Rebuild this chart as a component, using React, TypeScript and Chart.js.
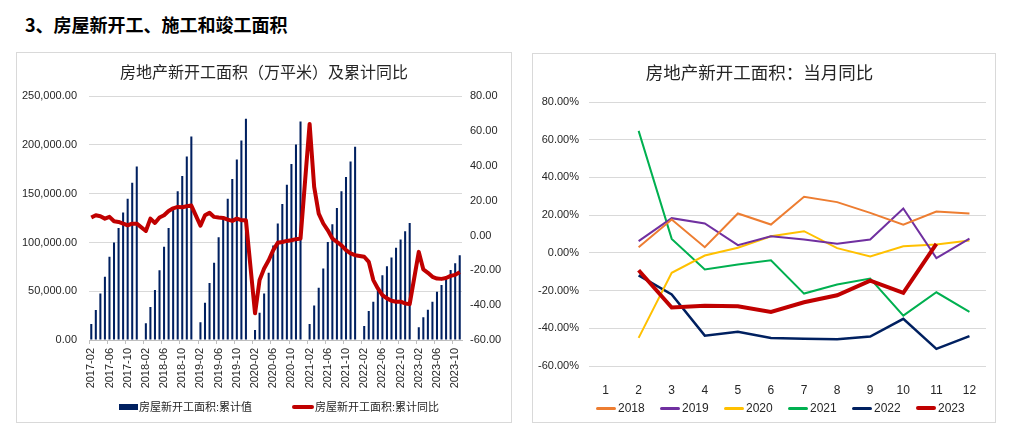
import React, { useEffect, useRef } from 'react';
import { Chart, registerables } from 'chart.js';

Chart.register(...registerables);

// ---------- Data: left chart (cumulative new starts, 万平米, and cumulative YoY %) ----------
const years = ['2017', '2018', '2019', '2020', '2021', '2022', '2023'];
const months = ['01', '02', '03', '04', '05', '06', '07', '08', '09', '10', '11', '12'];

// values from Feb to Dec (Jan has no separate release)
const cum2017 = [16370, 30700, 47750, 64800, 85270, 99930, 114940, 130630, 144950, 161320, 178030];
const cum2018 = [17050, 33770, 51160, 71620, 95500, 114940, 133700, 152460, 168150, 188270, 208730];
const cum2019 = [18080, 38200, 58330, 79130, 105390, 126000, 144950, 165080, 185200, 204640, 226810];
const cum2020 = [10230, 27970, 47750, 68890, 97000, 119370, 139490, 159280, 180420, 200540, 224080];
const cum2021 = [16370, 35460, 53530, 73300, 100610, 118660, 135370, 152460, 167130, 183160, 198160];
const cum2022 = [14330, 29670, 39220, 51500, 66400, 75700, 84580, 94470, 103000, 111530, 120060];
const cum2023 = [13000, 23300, 30900, 39240, 49500, 56400, 64000, 71800, 78700, 87000];

const yoy2017 = [10.3, 11.6, 11.1, 9.7, 10.7, 8.2, 7.8, 6.8, 5.9, 6.8, 6.8];
const yoy2018 = [2.6, 9.7, 7.2, 10.3, 11.6, 14.1, 15.6, 16.4, 16.2, 16.8, 17.2];
const yoy2019 = [5.7, 11.6, 13.0, 10.7, 10.3, 10.1, 9.1, 8.4, 9.7, 8.8, 8.8];
const yoy2020 = [-44.7, -25.6, -18.9, -14.2, -8.4, -4.2, -3.7, -3.1, -2.7, -2.1, -1.7];
const yoy2021 = [64.1, 27.9, 12.6, 6.9, 3.0, -1.7, -3.7, -5.6, -8.4, -10.3, -11.3];
const yoy2022 = [-12.2, -15.1, -25.6, -30.4, -34.2, -36.1, -37.5, -38.0, -38.0, -39.0, -39.4];
const yoy2023 = [-9.4, -19.5, -21.4, -23.7, -24.7, -24.9, -24.4, -23.2, -22.6, -21.0];

const cumByYear = [cum2017, cum2018, cum2019, cum2020, cum2021, cum2022, cum2023];
const yoyByYear = [yoy2017, yoy2018, yoy2019, yoy2020, yoy2021, yoy2022, yoy2023];

// ---------- Data: right chart (monthly YoY %, month 1..12) ----------
const monthLabels = ['1', '2', '3', '4', '5', '6', '7', '8', '9', '10', '11', '12'];
const m2018 = [null, 3.0, 17.7, 3.0, 20.9, 15.0, 29.7, 26.9, 21.2, 14.9, 21.9, 20.9];
const m2019 = [null, 6.2, 18.4, 15.6, 4.1, 8.8, 7.1, 4.8, 7.1, 23.5, -2.8, 7.6];
const m2020 = [null, -45.1, -10.6, -1.4, 2.7, 8.8, 11.5, 2.5, -1.9, 3.5, 4.4, 6.5];
const m2021 = [null, 64.7, 7.4, -8.8, -6.2, -3.9, -21.6, -16.8, -13.6, -33.3, -20.9, -31.3];
const m2022 = [null, -11.9, -22.1, -43.9, -41.8, -45.1, -45.5, -45.8, -44.4, -35.0, -50.9, -44.2];
const m2023 = [null, -9.2, -29.0, -28.0, -28.3, -31.3, -26.2, -22.5, -14.7, -21.2, 4.8, null];

const monthlySeries = [
  { label: '2018', data: m2018, color: '#ED7D31', width: 2 },
  { label: '2019', data: m2019, color: '#7030A0', width: 2 },
  { label: '2020', data: m2020, color: '#FFC000', width: 2 },
  { label: '2021', data: m2021, color: '#00B050', width: 2 },
  { label: '2022', data: m2022, color: '#002060', width: 2.5 },
  { label: '2023', data: m2023, color: '#C00000', width: 4 },
];

// ---------- Build category table ----------
const cumLabels: string[] = [];
const cumSeries: (number | null)[] = [];
const yoySeries: (number | null)[] = [];
years.forEach((y, yi) => {
  months.forEach((m, mi) => {
    if (yi === 0 && mi === 0) return; // series starts at 2017-02
    const k = mi - 1;
    if (k >= cumByYear[yi].length) return;
    cumLabels.push(`${y}-${m}`);
    cumSeries.push(k < 0 ? null : cumByYear[yi][k]);
    yoySeries.push(k < 0 ? null : yoyByYear[yi][k]);
  });
});

const FONT = "'Liberation Sans', Arial, 'Noto Sans CJK SC', sans-serif";
const TXT = '#262626';
const GRID = '#d9d9d9';
const NAVY = '#002060';
const RED = '#C00000';

function LeftChart() {
  const ref = useRef<HTMLCanvasElement>(null);
  useEffect(() => {
    const chart = new Chart(ref.current as HTMLCanvasElement, {
      type: 'bar',
      data: {
        labels: cumLabels,
        datasets: [
          {
            type: 'line',
            label: '房屋新开工面积:累计同比',
            data: yoySeries,
            yAxisID: 'yR',
            borderColor: RED,
            backgroundColor: RED,
            borderWidth: 4,
            pointRadius: 0,
            tension: 0,
            spanGaps: true,
            order: 0,
            borderJoinStyle: 'round',
          } as any,
          {
            type: 'bar',
            label: '房屋新开工面积:累计值',
            data: cumSeries,
            yAxisID: 'yL',
            backgroundColor: NAVY,
            barPercentage: 0.45,
            categoryPercentage: 1,
            order: 1,
          } as any,
        ],
      },
      options: {
        responsive: false,
        animation: false,
        maintainAspectRatio: false,
        layout: { padding: 0 },
        plugins: {
          legend: { display: false },
          tooltip: { enabled: false },
          title: {
            display: true,
            text: '房地产新开工面积（万平米）及累计同比',
            color: TXT,
            font: { size: 16, family: FONT, weight: 'normal' },
            padding: { top: 11, bottom: 13 },
          },
        },
        scales: {
          x: {
            offset: true,
            grid: {
              display: true,
              drawOnChartArea: false,
              drawTicks: true,
              tickLength: 4,
              offset: true,
              tickColor: (c: any) => (c.index % 4 === 0 ? '#bfbfbf' : 'rgba(0,0,0,0)'),
            },
            border: { display: true, color: '#bfbfbf' },
            ticks: {
              autoSkip: false,
              minRotation: 90,
              maxRotation: 90,
              padding: 4,
              color: TXT,
              font: { size: 11, family: FONT },
              callback: (_v: any, i: number) => (i % 4 === 0 ? cumLabels[i] : ''),
            },
            afterFit: (s: any) => {
              s.height = 82;
            },
          },
          yL: {
            position: 'left',
            min: 0,
            max: 250000,
            grid: { color: GRID, drawTicks: false },
            border: { display: false },
            ticks: {
              stepSize: 50000,
              padding: 12,
              color: TXT,
              font: { size: 11, family: FONT },
              callback: (v: any) =>
                Number(v).toLocaleString('en-US', { minimumFractionDigits: 2, maximumFractionDigits: 2 }),
            },
            afterFit: (s: any) => {
              s.width = 72;
            },
          },
          yR: {
            position: 'right',
            min: -60,
            max: 80,
            grid: { display: false, drawTicks: false },
            border: { display: false },
            ticks: {
              stepSize: 20,
              padding: 8,
              color: TXT,
              font: { size: 11, family: FONT },
              callback: (v: any) => Number(v).toFixed(2),
            },
            afterFit: (s: any) => {
              s.width = 49;
            },
          },
        },
      } as any,
    });
    return () => chart.destroy();
  }, []);
  return <canvas ref={ref} width={494} height={369} style={{ display: 'block', width: 494, height: 369 }} />;
}

function RightChart() {
  const ref = useRef<HTMLCanvasElement>(null);
  useEffect(() => {
    const chart = new Chart(ref.current as HTMLCanvasElement, {
      type: 'line',
      data: {
        labels: monthLabels,
        datasets: monthlySeries.map((s) => ({
          label: s.label,
          data: s.data,
          borderColor: s.color,
          backgroundColor: s.color,
          borderWidth: s.width,
          pointRadius: 0,
          tension: 0,
          order: s.label === '2023' ? 0 : 1,
        })),
      },
      options: {
        responsive: false,
        animation: false,
        maintainAspectRatio: false,
        layout: { padding: { right: 9, left: 0, top: 0, bottom: 0 } },
        plugins: {
          legend: { display: false },
          tooltip: { enabled: false },
          title: {
            display: true,
            text: '房地产新开工面积：当月同比',
            color: TXT,
            font: { size: 17.5, family: FONT, weight: 'normal' },
            padding: { top: 10, bottom: 17 },
          },
        },
        scales: {
          x: {
            offset: true,
            grid: { display: false },
            border: { display: false },
            ticks: { padding: 9, color: TXT, font: { size: 12, family: FONT } },
            afterFit: (s: any) => {
              s.height = 56;
            },
          },
          y: {
            min: -60,
            max: 80,
            grid: { color: GRID, drawTicks: false },
            border: { display: false },
            ticks: {
              stepSize: 20,
              padding: 10,
              color: TXT,
              font: { size: 11, family: FONT },
              callback: (v: any) => Number(v).toFixed(2) + '%',
            },
            afterFit: (s: any) => {
              s.width = 56;
            },
          },
        },
      } as any,
    });
    return () => chart.destroy();
  }, []);
  return <canvas ref={ref} width={462} height={368} style={{ display: 'block', width: 462, height: 368 }} />;
}

const legendText: React.CSSProperties = {
  fontFamily: FONT,
  fontSize: 11,
  color: TXT,
  lineHeight: '12px',
  whiteSpace: 'nowrap',
};

export default function App() {
  return (
    <div
      style={{
        position: 'fixed',
        left: 0,
        top: 0,
        width: 1020,
        height: 437,
        background: '#fff',
        overflow: 'hidden',
      }}
    >
      <div
        style={{
          position: 'absolute',
          left: 25,
          top: 11,
          fontFamily: "'Noto Sans CJK SC', sans-serif",
          fontWeight: 700,
          fontSize: 18,
          lineHeight: '26px',
          color: '#000',
          whiteSpace: 'nowrap',
        }}
      >
        3、房屋新开工、施工和竣工面积
      </div>

      {/* left panel */}
      <div
        style={{
          position: 'absolute',
          left: 16,
          top: 52,
          width: 494,
          height: 369,
          border: '1px solid #d9d9d9',
        }}
      >
        <LeftChart />
      </div>
      <div style={{ position: 'absolute', left: 119, top: 401, display: 'flex', alignItems: 'center' }}>
        <span style={{ display: 'inline-block', width: 19, height: 6, background: NAVY, marginRight: 1 }} />
        <span style={legendText}>房屋新开工面积:累计值</span>
      </div>
      <div style={{ position: 'absolute', left: 292, top: 401, display: 'flex', alignItems: 'center' }}>
        <span
          style={{ display: 'inline-block', width: 22, height: 4, background: RED, borderRadius: 2, marginRight: 1 }}
        />
        <span style={legendText}>房屋新开工面积:累计同比</span>
      </div>

      {/* right panel */}
      <div
        style={{
          position: 'absolute',
          left: 532,
          top: 53,
          width: 462,
          height: 368,
          border: '1px solid #d9d9d9',
        }}
      >
        <RightChart />
      </div>
      <div style={{ position: 'absolute', left: 596, top: 401, display: 'flex', alignItems: 'center' }}>
        {monthlySeries.map((s) => (
          <div key={s.label} style={{ width: 64, display: 'flex', alignItems: 'center' }}>
            <span
              style={{
                display: 'inline-block',
                width: 20,
                height: s.label === '2023' ? 4 : 3,
                background: s.color,
                borderRadius: 2,
                marginRight: 2,
              }}
            />
            <span style={{ ...legendText, fontSize: 12, lineHeight: '14px' }}>{s.label}</span>
          </div>
        ))}
      </div>
    </div>
  );
}
